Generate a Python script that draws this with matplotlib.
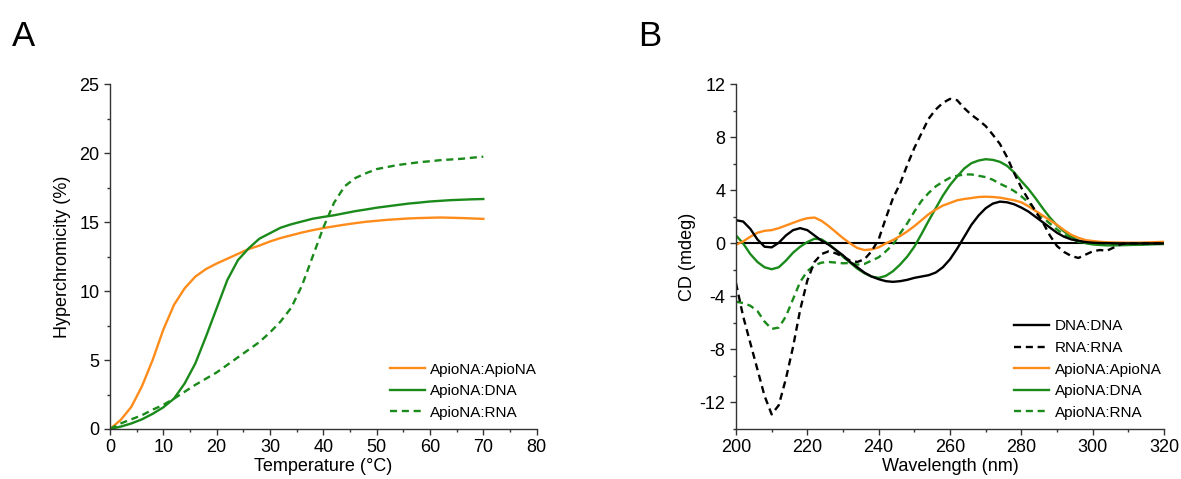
import matplotlib
matplotlib.use("Agg")
import matplotlib.pyplot as plt
from matplotlib.ticker import MultipleLocator

plt.rcParams['font.family'] = ['Liberation Sans', 'DejaVu Sans']
plt.rcParams['axes.unicode_minus'] = False

# ---- panel A: melting curves ----
temp = [0, 2, 4, 6, 8, 10, 12, 14, 16, 18, 20, 22, 24, 26, 28, 30, 32, 34,
        36, 38, 40, 42, 44, 46, 48, 50, 52, 54, 56, 58, 60, 62, 64, 66, 68, 70]
apio_apio = [0.0, 0.65, 1.6, 3.1, 5.0, 7.2, 9.0, 10.2, 11.05, 11.6, 12.0, 12.35,
             12.7, 13.05, 13.3, 13.6, 13.85, 14.05, 14.25, 14.42, 14.57, 14.7,
             14.82, 14.93, 15.03, 15.1, 15.17, 15.22, 15.27, 15.3, 15.32, 15.34,
             15.32, 15.3, 15.27, 15.24]
apio_dna = [0.0, 0.17, 0.4, 0.7, 1.1, 1.57, 2.2, 3.3, 4.75, 6.7, 8.75, 10.8,
            12.25, 13.1, 13.8, 14.2, 14.6, 14.85, 15.05, 15.25, 15.38, 15.5,
            15.65, 15.8, 15.92, 16.05, 16.15, 16.25, 16.35, 16.42, 16.5, 16.55,
            16.6, 16.63, 16.66, 16.68]
apio_rna = [0.0, 0.4, 0.7, 1.0, 1.4, 1.75, 2.2, 2.7, 3.2, 3.65, 4.1, 4.65,
            5.2, 5.75, 6.3, 7.0, 7.8, 8.8, 10.4, 12.5, 14.6, 16.4, 17.6, 18.2,
            18.55, 18.85, 19.0, 19.15, 19.25, 19.35, 19.42, 19.5, 19.55, 19.6,
            19.68, 19.75]

# ---- panel B: CD spectra ----
wl = list(range(200, 322, 2))
cd_dna_dna = [1.75, 1.65, 1.1, 0.3, -0.25, -0.3, 0.05, 0.6, 1.0, 1.15, 1.0, 0.6,
              0.2, -0.1, -0.5, -0.9, -1.4, -1.8, -2.2, -2.5, -2.7, -2.85, -2.9,
              -2.85, -2.75, -2.6, -2.5, -2.4, -2.2, -1.8, -1.2, -0.4, 0.5, 1.4,
              2.1, 2.65, 3.0, 3.15, 3.1, 2.95, 2.7, 2.4, 2.0, 1.6, 1.2, 0.8, 0.5,
              0.3, 0.2, 0.1, 0.05, 0.03, 0.02, 0.01, 0.0, 0.0, 0.0, 0.0, 0.0,
              0.0, 0.0]
cd_rna_rna = [-3.0, -5.5, -7.5, -9.5, -11.5, -12.9, -12.2, -10.2, -7.8, -5.0,
              -2.8, -1.4, -0.8, -0.6, -0.75, -1.0, -1.3, -1.4, -1.2, -0.6, 0.3,
              1.9, 3.4, 4.5, 5.9, 7.2, 8.3, 9.4, 10.1, 10.6, 10.9, 10.8, 10.2,
              9.7, 9.3, 8.85, 8.2, 7.5, 6.5, 5.3, 4.2, 3.3, 2.4, 1.6, 0.6, -0.2,
              -0.65, -0.95, -1.1, -0.85, -0.6, -0.5, -0.55, -0.3, -0.05, 0.0,
              0.0, 0.0, 0.0, 0.0, 0.0]
cd_apio_apio = [-0.1, 0.15, 0.5, 0.8, 0.95, 1.0, 1.15, 1.35, 1.55, 1.75, 1.9,
                1.95, 1.7, 1.3, 0.85, 0.4, 0.0, -0.35, -0.5, -0.45, -0.3, 0.0,
                0.25, 0.55, 0.9, 1.3, 1.75, 2.2, 2.55, 2.85, 3.05, 3.25, 3.35,
                3.42, 3.5, 3.52, 3.5, 3.45, 3.35, 3.25, 3.1, 2.8, 2.45, 2.1, 1.75,
                1.4, 1.0, 0.65, 0.42, 0.25, 0.18, 0.12, 0.08, 0.07, 0.06, 0.05,
                0.05, 0.06, 0.08, 0.1, 0.12]
cd_apio_dna = [0.6, 0.0, -0.8, -1.4, -1.8, -1.95, -1.8, -1.3, -0.7, -0.25, 0.1,
               0.35, 0.3, -0.05, -0.5, -1.0, -1.45, -1.9, -2.25, -2.5, -2.6,
               -2.45, -2.1, -1.6, -1.0, -0.25, 0.7, 1.7, 2.65, 3.6, 4.4, 5.05,
               5.65, 6.05, 6.25, 6.35, 6.3, 6.15, 5.85, 5.35, 4.7, 4.1, 3.4, 2.65,
               1.95, 1.35, 0.9, 0.5, 0.2, 0.02, -0.08, -0.12, -0.15, -0.15, -0.14,
               -0.12, -0.11, -0.1, -0.08, -0.06, -0.05]
cd_apio_rna = [-4.4, -4.5, -4.7, -5.1, -5.9, -6.45, -6.35, -5.5, -4.2, -2.9,
               -2.1, -1.65, -1.45, -1.4, -1.45, -1.5, -1.48, -1.6, -1.55, -1.3,
               -1.05, -0.6, -0.1, 0.75, 1.5, 2.4, 3.2, 3.8, 4.3, 4.65, 4.95, 5.1,
               5.2, 5.2, 5.1, 5.0, 4.8, 4.5, 4.25, 3.95, 3.55, 3.1, 2.5, 1.95,
               1.5, 1.05, 0.65, 0.35, 0.12, 0.03, 0.0, -0.03, -0.03, -0.03,
               -0.03, -0.03, -0.03, -0.03, -0.03, -0.03, -0.03]

orange = '#ff8c1a'
green = '#1a8a1a'
dash = (3.0, 2.0)
fs = 13
leg_kw = dict(loc='lower right', frameon=False, fontsize=11, handlelength=2.3,
              handletextpad=0.35, labelspacing=0.5, borderaxespad=0.2)

fig = plt.figure(figsize=(11.81, 4.79), dpi=100)
axA = fig.add_axes([0.0931, 0.1044, 0.3613, 0.7196])
axB = fig.add_axes([0.6232, 0.1044, 0.3624, 0.7196])

axA.plot(temp, apio_apio, color=orange, lw=1.7, label='ApioNA:ApioNA')
axA.plot(temp, apio_dna, color=green, lw=1.7, label='ApioNA:DNA')
axA.plot(temp, apio_rna, color=green, lw=1.7, ls='--', dashes=dash,
         label='ApioNA:RNA')
axA.set_xlim(0, 80)
axA.set_ylim(0, 25)
axA.xaxis.set_major_locator(MultipleLocator(10))
axA.xaxis.set_minor_locator(MultipleLocator(5))
axA.yaxis.set_major_locator(MultipleLocator(5))
axA.yaxis.set_minor_locator(MultipleLocator(2.5))
axA.set_xlabel('Temperature (°C)', fontsize=fs, labelpad=1)
axA.set_ylabel('Hyperchromicity (%)', fontsize=fs, labelpad=6)
axA.legend(bbox_to_anchor=(1.023, 0.0), **leg_kw)

axB.axhline(0, color='black', lw=1.5)
axB.plot(wl, cd_apio_rna, color=green, lw=1.7, ls='--', dashes=dash)
axB.plot(wl, cd_apio_dna, color=green, lw=1.7)
axB.plot(wl, cd_apio_apio, color=orange, lw=1.7)
axB.plot(wl, cd_dna_dna, color='black', lw=1.7)
axB.plot(wl, cd_rna_rna, color='black', lw=1.7, ls='--', dashes=dash)
h = axB.get_lines()
axB.legend([h[4], h[5], h[3], h[2], h[1]],
           ['DNA:DNA', 'RNA:RNA', 'ApioNA:ApioNA', 'ApioNA:DNA', 'ApioNA:RNA'],
           bbox_to_anchor=(1.016, 0.0), **leg_kw)
axB.set_xlim(200, 320)
axB.set_ylim(-14, 12)
axB.set_yticks([-12, -8, -4, 0, 4, 8, 12])
axB.xaxis.set_major_locator(MultipleLocator(20))
axB.xaxis.set_minor_locator(MultipleLocator(10))
axB.yaxis.set_minor_locator(MultipleLocator(2))
axB.set_xlabel('Wavelength (nm)', fontsize=fs, labelpad=1)
axB.set_ylabel('CD (mdeg)', fontsize=fs, labelpad=3)

for ax in (axA, axB):
    for s in ('top', 'right'):
        ax.spines[s].set_visible(False)
    for s in ('left', 'bottom'):
        ax.spines[s].set_color('#333333')
        ax.spines[s].set_linewidth(1.0)
    ax.tick_params(which='major', direction='out', length=4, width=1.0,
                   labelsize=fs, color='#333333')
    ax.tick_params(which='minor', direction='out', length=2.5, width=1.0,
                   color='#333333')

fig.text(0.010, 0.905, 'A', fontsize=25)
fig.text(0.540, 0.905, 'B', fontsize=25)

fig.savefig('out.png', dpi=100)
